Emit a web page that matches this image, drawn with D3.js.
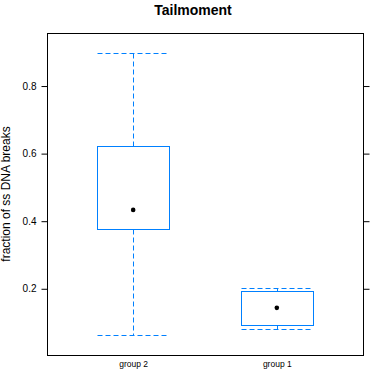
<!DOCTYPE html>
<html>
<head>
<meta charset="utf-8">
<script src="https://cdn.jsdelivr.net/npm/d3@7"></script>
<style>
  body { margin: 0; background: #fff; }
  text { font-family: "Liberation Sans", Arial, sans-serif; }
</style>
</head>
<body>
<div id="chart"></div>
<script>
// groups and box statistics
const groups = ["group 2", "group 1"];
const lowerWhisker = [0.061, 0.079];
const lowerQuartile = [0.375, 0.091];
const medians = [0.432, 0.142];
const upperQuartile = [0.621, 0.191];
const upperWhisker = [0.897, 0.200];
const yTicks = [0.2, 0.4, 0.6, 0.8];

const W = 370, H = 372;
const panel = { left: 47, top: 33, right: 363, bottom: 355 };
const blue = "#0080ff";
const dash = "5,3";

const svg = d3.select("#chart").append("svg")
  .attr("width", W).attr("height", H);

const x = d3.scalePoint()
  .domain(groups)
  .range([panel.left, panel.right])
  .padding(0.6);

const y = d3.scaleLinear()
  .domain([0.0025, 0.9555])
  .range([panel.bottom, panel.top]);

const boxW = x.step() * 0.5;

const data = groups.map((g, i) => ({
  g, lo: lowerWhisker[i], q1: lowerQuartile[i], med: medians[i],
  q3: upperQuartile[i], hi: upperWhisker[i]
}));

// title
svg.append("text")
  .attr("x", 193).attr("y", 15)
  .attr("text-anchor", "middle")
  .style("font-size", "14px").style("font-weight", "bold")
  .text("Tailmoment");

// y label
svg.append("text")
  .attr("transform", "rotate(-90)")
  .attr("x", -(panel.top + panel.bottom) / 2)
  .attr("y", 10)
  .attr("text-anchor", "middle")
  .style("font-size", "12px")
  .text("fraction of ss DNA breaks");

// axes
const left = svg.append("g")
  .attr("transform", `translate(${panel.left + 0.5},0.5)`)
  .call(d3.axisLeft(y).tickValues(yTicks).tickSize(6).tickPadding(5).tickFormat(d3.format(".1f")));
left.select(".domain").remove();
left.selectAll("text").style("font-size", "10px").style("font-family", "Liberation Sans, Arial, sans-serif");

const right = svg.append("g")
  .attr("transform", `translate(${panel.right + 0.5},0.5)`)
  .call(d3.axisRight(y).tickValues(yTicks).tickSize(6).tickFormat(""));
right.select(".domain").remove();

const bottom = svg.append("g")
  .attr("transform", `translate(0,${panel.bottom})`)
  .call(d3.axisBottom(x).tickSize(0).tickPadding(6));
bottom.select(".domain").remove();
bottom.selectAll("text").style("font-size", "8.5px").style("font-family", "Liberation Sans, Arial, sans-serif");

// panel border
svg.append("rect")
  .attr("x", panel.left + 0.5).attr("y", panel.top + 0.5)
  .attr("width", panel.right - panel.left).attr("height", panel.bottom - panel.top)
  .attr("fill", "none").attr("stroke", "#000").attr("stroke-width", 1);

const boxes = svg.append("g").attr("transform", "translate(0.5,0.5)")
  .selectAll("g").data(data).join("g");

// whiskers
boxes.append("line")
  .attr("x1", d => Math.round(x(d.g))).attr("x2", d => Math.round(x(d.g)))
  .attr("y1", d => Math.round(y(d.q3))).attr("y2", d => Math.round(y(d.hi)))
  .attr("stroke", blue).attr("stroke-dasharray", dash);
boxes.append("line")
  .attr("x1", d => Math.round(x(d.g))).attr("x2", d => Math.round(x(d.g)))
  .attr("y1", d => Math.round(y(d.q1))).attr("y2", d => Math.round(y(d.lo)))
  .attr("stroke", blue).attr("stroke-dasharray", dash);

// caps
["hi", "lo"].forEach(k => {
  boxes.append("line")
    .attr("x1", d => Math.round(x(d.g) - boxW / 2)).attr("x2", d => Math.round(x(d.g) + boxW / 2))
    .attr("y1", d => Math.round(y(d[k]))).attr("y2", d => Math.round(y(d[k])))
    .attr("stroke", blue).attr("stroke-dasharray", dash);
});

// boxes
boxes.append("rect")
  .attr("x", d => Math.round(x(d.g) - boxW / 2))
  .attr("y", d => Math.round(y(d.q3)))
  .attr("width", Math.round(boxW))
  .attr("height", d => Math.round(y(d.q1)) - Math.round(y(d.q3)))
  .attr("fill", "none").attr("stroke", blue);

// median dots
boxes.append("circle")
  .attr("cx", d => x(d.g) - 0.5).attr("cy", d => y(d.med) - 0.5)
  .attr("r", 2.3).attr("fill", "#000");
</script>
</body>
</html>
